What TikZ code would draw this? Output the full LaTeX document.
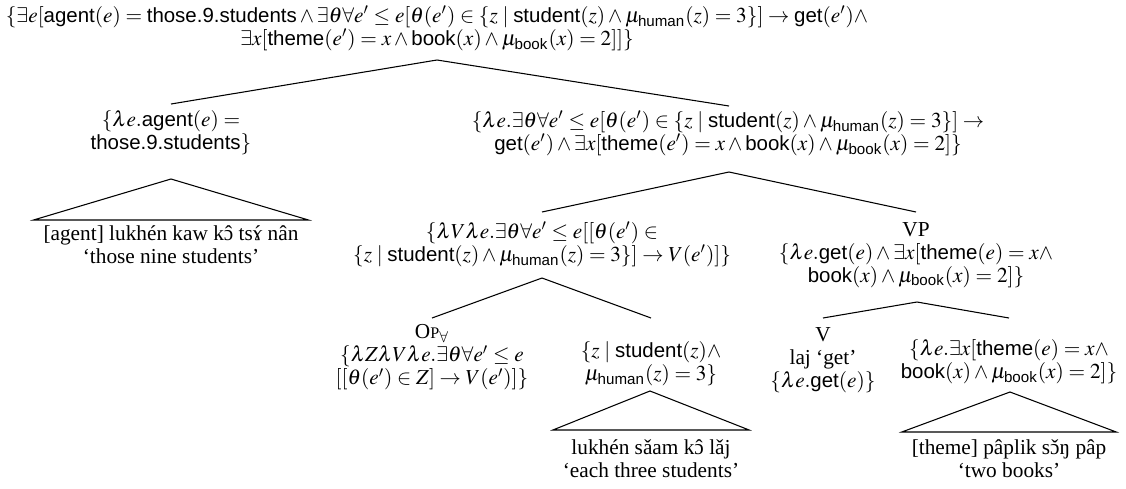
\documentclass[tikz,border=0pt]{standalone}
\usepackage{amsmath}
\usepackage{mathptmx}
\usepackage{fontspec}
\setmainfont{Liberation Serif}
\setsansfont{Liberation Sans}[Scale=0.96]
\usetikzlibrary{calc}
\newcommand{\sfw}[1]{\textsf{#1}}
\newcommand{\opsc}{O{\fontsize{7.6}{8}\selectfont P}$_{\forall}$}
\newcommand{\ovl}[2]{\ooalign{#1\cr\hidewidth#2\hidewidth\cr}}
\begin{document}
\begin{tikzpicture}[x=0.4695pt, y=-0.4695pt,
  every node/.style={font=\fontsize{10}{10.8}\selectfont, inner sep=0pt, align=center},
  leaf/.style={inner xsep=4.5pt, inner ysep=0pt},
  branch/.style={line width=0.5pt}]
\useasboundingbox (0,0) rectangle (1126,488);
% nodes
\node (root) at (437,28.5) {$\{\exists e[\sfw{agent}(e) = \sfw{those.9.students} \wedge \exists\theta\forall e' \leq e[\theta(e') \in \{z \mid \sfw{student}(z) \wedge \mu_{\sfw{human}}(z) = 3\}] \rightarrow \sfw{get}(e')\wedge$\\
$\exists x[\sfw{theme}(e') = x \wedge \sfw{book}(x) \wedge \mu_{\sfw{book}}(x) = 2]]\}$};
\node (left) at (171,132.5) {$\{\lambda e.\sfw{agent}(e) =$\\ $\sfw{those.9.students}\}$};
\node[leaf] (leftleaf) at (171,244.5) {[agent] lukhén kaw k\ovl{ɔ}{ˆ} ts\ovl{ɤ}{´} nân\\‘those nine students’};
\node (right) at (728,133.5) {$\{\lambda e.\exists\theta\forall e' \leq e[\theta(e') \in \{z \mid \sfw{student}(z) \wedge \mu_{\sfw{human}}(z) = 3\}] \rightarrow$\\
$\sfw{get}(e') \wedge \exists x[\sfw{theme}(e') = x \wedge \sfw{book}(x) \wedge \mu_{\sfw{book}}(x) = 2]\}$};
\node (mid) at (542,244.5) {$\{\lambda V\lambda e.\exists\theta\forall e' \leq e[[\theta(e') \in$\\
$\{z \mid \sfw{student}(z) \wedge \mu_{\sfw{human}}(z) = 3\}] \rightarrow V(e')]\}$};
\node (vp) at (916,255) {VP\\ $\{\lambda e.\sfw{get}(e) \wedge \exists x[\sfw{theme}(e) = x\wedge$\\ $\sfw{book}(x) \wedge \mu_{\sfw{book}}(x) = 2]\}$};
\node (op) at (432,357.5) {\opsc\\ $\{\lambda Z\lambda V\lambda e.\exists\theta\forall e' \leq e$\\ $[[\theta(e') \in Z] \rightarrow V(e')]\}$};
\node (set) at (651,364) {$\{z \mid \sfw{student}(z)\wedge$\\ $\mu_{\sfw{human}}(z) = 3\}$};
\node[leaf] (setleaf) at (651,458.5) {lukhén sǎam k\ovl{ɔ}{ˆ} lǎj\\‘each three students’};
\node (v) at (823,360.5) {V\\ laj ‘get’\\ $\{\lambda e.\sfw{get}(e)\}$};
\node (theme) at (1009,362) {$\{\lambda e.\exists x[\sfw{theme}(e) = x\wedge$\\ $\sfw{book}(x) \wedge \mu_{\sfw{book}}(x) = 2]\}$};
\node[leaf] (themeleaf) at (1009,458.5) {[theme] pâplik s\ovl{ɔ}{ˇ}ŋ pâp\\‘two books’};
% branches (offsets in px from node centres)
\draw[branch] ($(root.center)+(0,31.5)$) -- ($(left.center)+(0,-28.5)$);
\draw[branch] ($(root.center)+(0,31.5)$) -- ($(right.center)+(1,-27.5)$);
\draw[branch] ($(right.center)+(1,38.5)$) -- ($(mid.center)+(0,-32.5)$);
\draw[branch] ($(right.center)+(1,38.5)$) -- ($(vp.center)+(0,-43)$);
\draw[branch] ($(mid.center)+(0,33.5)$) -- ($(op.center)+(0,-39.5)$);
\draw[branch] ($(mid.center)+(0,33.5)$) -- ($(set.center)+(0,-46)$);
\draw[branch] ($(vp.center)+(1,47)$) -- ($(v.center)+(0,-42.5)$);
\draw[branch] ($(vp.center)+(1,47)$) -- ($(theme.center)+(0,-44)$);
% triangles
\draw[branch] ($(left.center)+(0,46.5)$) -- ($(leftleaf.west)+(0,-24.5)$) -- ($(leftleaf.east)+(0,-24.5)$) -- cycle;
\draw[branch] ($(set.center)+(-1,27)$) -- ($(setleaf.west)+(0,-28.5)$) -- ($(setleaf.east)+(0,-28.5)$) -- cycle;
\draw[branch] ($(theme.center)+(1,30)$) -- ($(themeleaf.west)+(0,-26.5)$) -- ($(themeleaf.east)+(0,-26.5)$) -- cycle;
\end{tikzpicture}
\end{document}
